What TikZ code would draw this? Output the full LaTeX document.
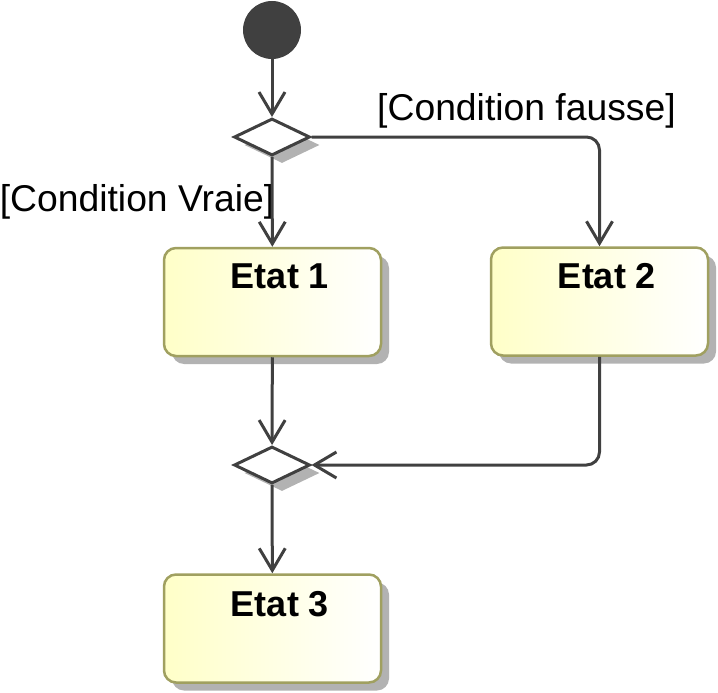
\documentclass[tikz,border=0pt]{standalone}
\usepackage{fontspec}
\setmainfont{Liberation Sans}
\usetikzlibrary{arrows.meta,shapes.geometric,shadows}
\definecolor{linec}{RGB}{64,64,64}
\definecolor{boxborder}{RGB}{160,160,96}
\definecolor{boxfill}{RGB}{255,255,200}
\definecolor{shadowc}{RGB}{178,178,178}
\begin{document}
\begin{tikzpicture}[x=1pt,y=-1pt,
  conn/.style={draw=linec,line width=3pt,-{Straight Barb[length=22pt,width=26pt,line width=3pt]}},
  decision/.style={diamond,draw=linec,line width=3pt,fill=white,inner sep=0pt,minimum width=76pt,minimum height=37pt,
    drop shadow={shadow xshift=10pt,shadow yshift=-8pt,fill=shadowc,opacity=1}},
  statebox/.style={rectangle,rounded corners=12pt,draw=boxborder,line width=2.5pt,left color=boxfill,right color=white,
    minimum width=217pt,minimum height=108pt,inner sep=0pt,
    drop shadow={shadow xshift=8pt,shadow yshift=-8pt,fill=shadowc,opacity=1}},
  statetext/.style={font=\fontsize{36}{40}\selectfont\bfseries,inner sep=0pt},
  guard/.style={font=\fontsize{37.3}{42}\selectfont,inner sep=0pt}]
\useasboundingbox (0,0) rectangle (718,693);
\node[circle,fill=linec,minimum size=58pt,inner sep=0pt] (init) at (272,30) {};
\node[decision] (d1) at (272,137) {};
\node[statebox] (e1) at (272.5,302) {};
\node[statebox] (e2) at (599.5,301.5) {};
\node[decision] (d2) at (272,465) {};
\node[statebox] (e3) at (272.5,628.5) {};
\node[statetext] (t1) at (280,276) {Etat 1};
\node[statetext] (t2) at (607,276) {Etat 2};
\node[statetext] (t3) at (280,604) {Etat 3};
\node[guard] (gf) at (526.5,111) {[Condition fausse]};
\node[guard] (gv) at (137,202) {[Condition Vraie]};
\draw[conn] (init) -- (d1);
\draw[conn] (d1) -- (e1);
\draw[conn,rounded corners=13pt] (d1.east) -| (e2.north);
\draw[conn] (e1) -- (d2);
\draw[conn,rounded corners=13pt] (e2.south) |- (d2.east);
\draw[conn] (d2) -- (e3);
\end{tikzpicture}
\end{document}
